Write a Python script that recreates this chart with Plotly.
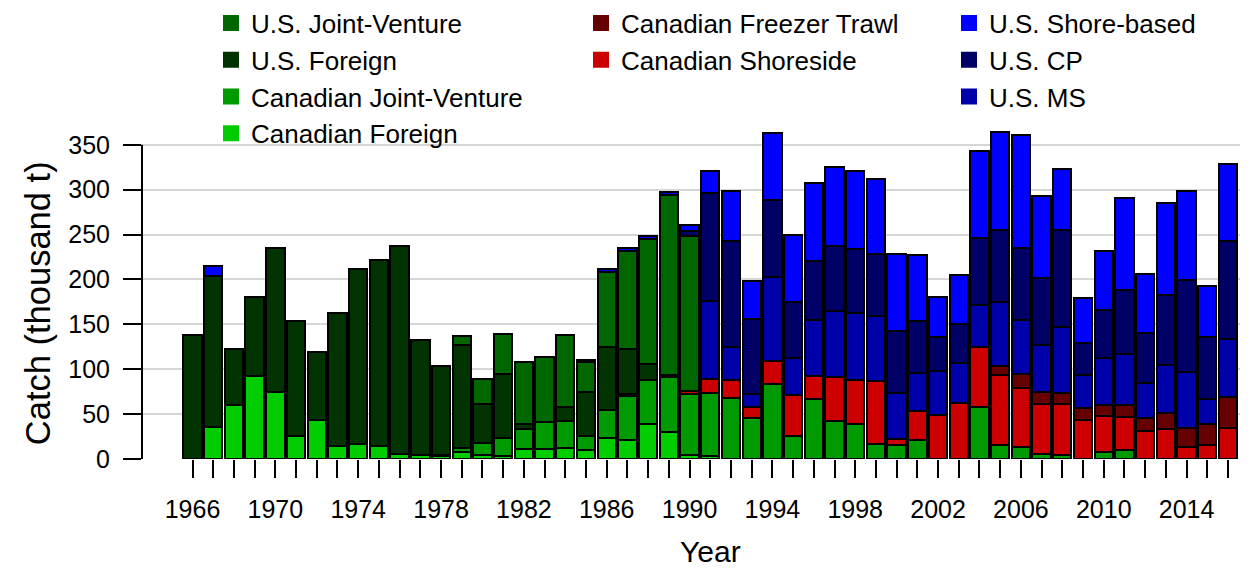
import plotly.graph_objects as go

years = list(range(1966, 2017))
N = None

# Catch by fleet (thousand t), 1966..2016
can_foreign = [
    N, 35.6, 60.4, 92.7, 74.2, 25.6, 43.0, 14.8, 17.0, 14.5,      # 1966-1975
    5.9, 4.8, 3.0, 7.5, 4.9, 3.4, 11.6, 11.6, 12.6, 10.4,          # 1976-1985
    23.7, 20.8, 38.6, 30.0, 4.0, 3.0, N, N, N, N,                  # 1986-1995
    N, N, N, N, N, N, N, N, N, N,                                  # 1996-2005
    N, N, N, N, N, N, N, N, N, N,                                  # 2006-2015
    N]                                                             # 2016
can_jv = [
    N, N, N, N, N, N, N, N, N, N,
    N, N, 2.0, 5.0, 12.9, 20.4, 22.2, 29.6, 29.7, 14.8,
    30.6, 49.4, 49.6, 61.2, 68.5, 70.5, 67.9, 46.0, 83.8, 25.2,
    66.5, 42.3, 39.3, 17.1, 15.2, 20.8, N, N, 57.8, 15.2,
    13.3, 5.9, 4.1, N, 7.4, 9.6, N, N, N, N,
    N]
can_shoreside = [
    N, N, N, N, N, N, N, N, N, N,
    N, N, N, N, N, N, N, N, N, N,
    N, 2.5, N, N, 3.5, 16.0, 20.3, 11.8, 25.2, 46.4,
    26.5, 48.9, 48.2, 69.7, 6.7, 32.2, 49.3, 62.7, 66.8, 77.9,
    66.0, 54.9, 56.7, 43.8, 40.1, 37.1, 31.1, 33.7, 13.3, 15.9,
    34.5]
can_freezer = [
    N, N, N, N, N, N, N, N, N, N,
    N, N, N, N, N, N, N, N, N, N,
    N, N, N, N, N, N, N, N, N, N,
    N, N, N, N, N, N, N, N, N, 10.0,
    15.6, 13.7, 12.6, 13.3, 12.9, 13.7, 14.9, 17.8, 21.6, 23.4,
    34.5]
us_foreign = [
    138.0, 168.7, 61.6, 87.9, 160.8, 128.6, 75.7, 148.0, 194.7, 206.9,
    231.8, 128.3, 98.4, 114.0, 43.8, 71.2, 5.6, N, 15.5, 49.3,
    71.0, 50.0, 17.1, 2.6, N, N, N, N, N, N,
    N, N, N, N, N, N, N, N, N, N,
    N, N, N, N, N, N, N, N, N, N,
    N]
us_jv = [
    N, N, N, N, N, N, N, N, N, N,
    N, N, N, 10.5, 27.8, 44.4, 68.5, 72.3, 80.0, 33.6,
    83.5, 109.0, 140.0, 200.0, 172.7, N, N, N, N, N,
    N, N, N, N, N, N, N, N, N, N,
    N, N, N, N, N, N, N, N, N, N,
    N]
us_ms = [
    N, N, N, N, N, N, N, N, N, N,
    N, N, N, N, N, N, N, N, N, N,
    N, N, N, N, N, 86.4, 36.4, 14.9, 93.4, 40.7,
    62.0, 74.2, 74.9, 73.0, 51.9, 42.7, 48.6, 44.5, 47.4, 71.5,
    60.1, 53.0, 73.4, 36.7, 52.3, 56.0, 38.5, 52.7, 61.9, 27.8,
    64.9]
us_cp = [
    N, N, N, N, N, N, N, N, N, N,
    N, N, N, N, N, N, N, N, N, N,
    N, N, N, N, 5.0, 120.5, 118.6, 83.4, 86.4, 62.3,
    66.0, 71.5, 71.6, 68.6, 69.3, 57.8, 37.8, 43.3, 73.8, 80.5,
    80.1, 73.8, 108.3, 35.6, 53.8, 72.3, 56.0, 78.6, 103.1, 68.6,
    109.3]
us_shore = [
    N, 11.0, N, N, N, N, N, N, N, N,
    N, N, N, N, N, N, N, N, N, 2.0,
    3.0, 3.0, 3.5, 4.0, 7.0, 24.0, 55.7, 41.9, 73.8, 74.9,
    86.0, 88.6, 86.4, 83.1, 85.3, 73.8, 44.5, 54.5, 96.8, 108.6,
    126.0, 91.6, 67.5, 49.7, 65.6, 101.6, 65.7, 102.0, 99.0, 57.5,
    85.3]

for s in (can_foreign, can_jv, can_shoreside, can_freezer, us_foreign,
          us_jv, us_ms, us_cp, us_shore):
    assert len(s) == len(years)

tick_labels = [str(y) if (y - 1966) % 4 == 0 else "" for y in years]
y_ticks = [0, 50, 100, 150, 200, 250, 300, 350]

# (name, values, colour, legend) in stacking order, bottom first
series = [
    ("Canadian Foreign", can_foreign, "#00CC00", "legend"),
    ("Canadian Joint-Venture", can_jv, "#009900", "legend"),
    ("Canadian Shoreside", can_shoreside, "#CC0000", "legend2"),
    ("Canadian Freezer Trawl", can_freezer, "#660000", "legend2"),
    ("U.S. Foreign", us_foreign, "#003300", "legend"),
    ("U.S. Joint-Venture", us_jv, "#006600", "legend"),
    ("U.S. MS", us_ms, "#0000AA", "legend3"),
    ("U.S. CP", us_cp, "#000066", "legend3"),
    ("U.S. Shore-based", us_shore, "#0000FF", "legend3"),
]

FONT = "Liberation Sans, Arial, sans-serif"

fig = go.Figure()
for name, vals, col, leg in series:
    fig.add_trace(go.Bar(
        x=years, y=vals, name=name, legend=leg, legendgroup=name,
        showlegend=False,
        marker=dict(color=col, line=dict(color="black", width=2)),
    ))
# legend entries with larger square keys
for name, vals, col, leg in series:
    fig.add_trace(go.Scatter(
        x=[None], y=[None], mode="markers", name=name, legend=leg,
        legendgroup=name, showlegend=True,
        marker=dict(symbol="square", size=16, color=col,
                    line=dict(color=col, width=0)),
    ))

# page body adds an 8px offset; work in page pixels
OFF = 8
W, H = 1252 - OFF, 570 - OFF
ml = 142 - OFF
mr = W - (1240 - OFF)
mb = H - (459 - OFF)
mt = 124.6 - OFF
plot_w = W - ml - mr
plot_h = H - mt - mb


def px_x(px):
    return (px - OFF - ml) / plot_w


def px_y(py):
    return (H - mb - (py - OFF)) / plot_h


legend_common = dict(
    font=dict(family=FONT, size=26, color="black"),
    bgcolor="rgba(0,0,0,0)", borderwidth=0,
    traceorder="reversed", yanchor="top", xanchor="left",
    itemclick=False, itemdoubleclick=False,
)

fig.update_layout(
    width=W, height=H,
    margin=dict(l=ml, r=mr, t=mt, b=mb, autoexpand=False),
    paper_bgcolor="white", plot_bgcolor="white",
    barmode="stack", bargap=0.115,
    font=dict(family=FONT, color="black"),
    legend=dict(x=px_x(211), y=px_y(-1), **legend_common),
    legend2=dict(x=px_x(581), y=px_y(-1), **legend_common),
    legend3=dict(x=px_x(949), y=px_y(-1), **legend_common),
    xaxis=dict(
        range=[1963.56, 2016.58],
        tickmode="array", tickvals=years, ticktext=tick_labels,
        ticks="outside", ticklen=18, tickwidth=2, tickcolor="black",
        tickfont=dict(family=FONT, size=25, color="black"),
        ticklabelstandoff=10,
        showline=False, showgrid=False, zeroline=False,
    ),
    yaxis=dict(
        range=[0, 372],
        tickmode="array", tickvals=y_ticks,
        ticks="outside", ticklen=18, tickwidth=2, tickcolor="black",
        tickfont=dict(family=FONT, size=25, color="black"),
        ticklabelstandoff=8,
        showline=False, showgrid=True, gridcolor="#d6d6d6", gridwidth=2,
        zeroline=False,
    ),
    shapes=[dict(type="line", xref="paper", yref="y", x0=0, x1=0, y0=0, y1=350,
                 line=dict(color="black", width=2), layer="above")],
    annotations=[
        dict(text="Catch (thousand t)", textangle=-90, showarrow=False,
             xref="paper", yref="paper", x=px_x(38), y=px_y(303),
             xanchor="center", yanchor="middle",
             font=dict(family=FONT, size=34.5, color="black")),
        dict(text="Year", showarrow=False,
             xref="paper", yref="paper", x=px_x(711), y=px_y(552),
             xanchor="center", yanchor="middle",
             font=dict(family=FONT, size=30, color="black")),
    ],
)

fig.write_html("out.html")
